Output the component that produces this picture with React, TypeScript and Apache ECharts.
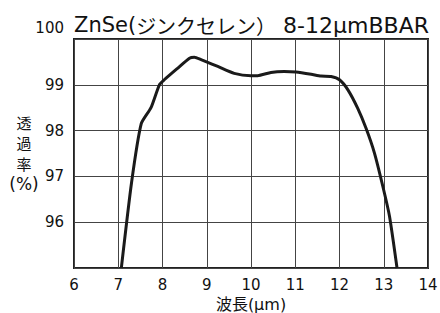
import React, { useEffect, useRef } from "react";
import * as echarts from "echarts";

const wavelength = [7.07, 7.3, 7.52, 7.74, 7.93, 8.04, 8.34, 8.61, 8.72, 8.87, 9.25, 9.62, 10.0, 10.15, 10.45, 10.75, 11.02, 11.36, 11.58, 11.81, 12.0, 12.19, 12.41, 12.6, 12.79, 12.98, 13.13, 13.3];
const transmittance = [95.0, 96.86, 98.15, 98.5, 99.0, 99.11, 99.36, 99.58, 99.6, 99.55, 99.4, 99.25, 99.2, 99.2, 99.27, 99.29, 99.28, 99.23, 99.19, 99.18, 99.11, 98.89, 98.49, 98.05, 97.51, 96.78, 96.13, 95.0];
const titleLatin1 = "ZnSe(";
const titleKana = "ジンクセレン）";
const titleLatin2 = " 8-12μmBBAR";
const xName = "波長(μm)";
const yNameChars = ["透", "過", "率", "(%)"];

const FONT = "'DejaVu Sans', 'Noto Sans CJK JP', sans-serif";
const CJK = "'Noto Sans CJK JP', sans-serif";

export default function App() {
  const ref = useRef<HTMLDivElement>(null);
  useEffect(() => {
    if (!ref.current) return;
    const chart = echarts.init(ref.current, null, { renderer: "svg" });
    chart.setOption({
      animation: false,
      backgroundColor: "#fff",
      title: {
        text: `{a|${titleLatin1}}{b|${titleKana}}{c|${titleLatin2}}`,
        left: 69,
        top: 9,
        textStyle: {
          fontFamily: FONT,
          fontSize: 21,
          fontWeight: "normal",
          color: "#111",
          rich: {
            a: { fontFamily: FONT, fontSize: 21, color: "#111" },
            b: { fontFamily: CJK, fontSize: 20, color: "#111" },
            c: { fontFamily: FONT, fontSize: 22, color: "#111" },
          },
        },
      },
      grid: {
        left: 74,
        right: 12,
        top: 39,
        bottom: 45,
        containLabel: false,
        outerBoundsMode: "none",
        show: true,
        borderColor: "#222",
        borderWidth: 2,
        backgroundColor: "transparent",
      },
      xAxis: {
        type: "value",
        min: 6,
        max: 14,
        interval: 1,
        name: xName,
        nameLocation: "middle",
        nameGap: 26,
        nameTextStyle: { fontFamily: FONT, fontSize: 16, color: "#111" },
        axisLine: { show: false },
        axisTick: { show: false },
        axisLabel: { fontFamily: FONT, fontSize: 15, color: "#111", margin: 9 },
        splitLine: { show: true, lineStyle: { color: "#444", width: 1 } },
      },
      yAxis: {
        type: "value",
        min: 95,
        max: 100,
        interval: 1,
        axisLine: { show: false },
        axisTick: { show: false },
        axisLabel: {
          fontFamily: FONT,
          fontSize: 15,
          color: "#111",
          margin: 10,
          formatter: (v: number) => (v === 95 ? "" : v === 100 ? "{t|100}" : String(v)),
          rich: { t: { fontFamily: FONT, fontSize: 15, color: "#111", padding: [0, 0, 22, 0] } },
        },
        splitLine: { show: true, lineStyle: { color: "#444", width: 1 } },
      },
      graphic: [
        {
          type: "text",
          x: 24,
          y: 112,
          style: {
            text: yNameChars.map((c, i) => (i === 3 ? `{p|${c}}` : `{k|${c}}`)).join("\n"),
            fontFamily: FONT,
            fontSize: 15,
            fill: "#111",
            align: "center",
            rich: {
              k: { fontFamily: CJK, fontSize: 15, lineHeight: 20.5, fill: "#111" },
              p: { fontFamily: FONT, fontSize: 17, lineHeight: 20.5, fill: "#111" },
            },
          },
        },
      ],
      series: [
        {
          type: "line",
          data: wavelength.map((x, i) => [x, transmittance[i]]),
          smooth: 0.2,
          symbol: "none",
          lineStyle: { color: "#1a1a1a", width: 3 },
        },
      ],
    });
    return () => chart.dispose();
  }, []);
  return <div ref={ref} style={{ position: "fixed", left: 0, top: 0, width: 440, height: 313 }} />;
}
